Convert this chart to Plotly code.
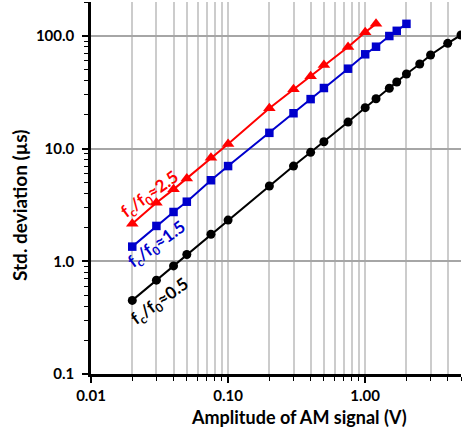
import plotly.graph_objects as go
import math

# Data
x_black = [0.02, 0.03, 0.04, 0.05, 0.075, 0.1, 0.2, 0.3, 0.4, 0.5, 0.75, 1.0, 1.2, 1.5, 1.7, 2.0, 2.5, 3.0, 4.0, 5.0]
y_black = [0.45, 0.68, 0.91, 1.15, 1.74, 2.32, 4.66, 7.0, 9.27, 11.5, 17.2, 23.1, 27.7, 34.3, 39.0, 45.9, 56.4, 67.7, 85.9, 102.0]

x_blue = [0.02, 0.03, 0.04, 0.05, 0.075, 0.1, 0.2, 0.3, 0.4, 0.5, 0.75, 1.0, 1.2, 1.5, 1.7, 2.0]
y_blue = [1.35, 2.06, 2.74, 3.38, 5.24, 7.0, 13.8, 20.6, 27.5, 34.5, 51.2, 68.7, 80.2, 99.8, 111.0, 128.0]

x_red = [0.02, 0.03, 0.04, 0.05, 0.075, 0.1, 0.2, 0.3, 0.4, 0.5, 0.75, 1.0, 1.2]
y_red = [2.15, 3.31, 4.35, 5.44, 8.3, 11.0, 22.8, 33.6, 43.8, 55.2, 79.8, 108.0, 128.0]

labels = ["f<sub>c</sub>/f<sub>0</sub>≈0.5", "f<sub>c</sub>/f<sub>0</sub>≈1.5", "f<sub>c</sub>/f<sub>0</sub>≈2.5"]

x_tickvals = [0.01, 0.1, 1.0]
x_ticktext = ["0.01", "0.10", "1.00"]
y_tickvals = [0.1, 1.0, 10.0, 100.0]
y_ticktext = ["0.1", "1.0", "10.0", "100.0"]

x_title = "Amplitude of AM signal (V)"
y_title = "Std. deviation (µs)"

FONT = "Lato"

fig = go.Figure()
fig.add_trace(go.Scatter(x=x_black, y=y_black, mode="lines+markers",
                         line=dict(color="black", width=2),
                         marker=dict(symbol="circle", size=9, color="black")))
fig.add_trace(go.Scatter(x=x_blue, y=y_blue, mode="lines+markers",
                         line=dict(color="#0000cc", width=2),
                         marker=dict(symbol="square", size=8.5, color="#0000cc")))
fig.add_trace(go.Scatter(x=x_red, y=y_red, mode="lines+markers",
                         line=dict(color="#ff0000", width=2),
                         marker=dict(symbol="triangle-up", size=11, color="#ff0000")))

ann_pos = [(-1.498, -0.361, "black"), (-1.52, 0.145, "#0000cc"), (-1.571, 0.588, "#ff0000")]
for (ax_, ay_, c), t in zip(ann_pos, labels):
    fig.add_annotation(x=ax_, y=ay_, xref="x", yref="y", text="<b>" + t + "</b>",
                       showarrow=False, textangle=-36,
                       font=dict(family=FONT, size=17, color=c))

# axis titles
fig.add_annotation(x=0.561, y=-0.1156, xref="paper", yref="paper", text="<b>" + x_title + "</b>",
                   showarrow=False, xanchor="center", yanchor="middle",
                   font=dict(family=FONT, size=18, color="black"))
fig.add_annotation(x=-0.195, y=0.454, xref="paper", yref="paper", text="<b>" + y_title + "</b>",
                   showarrow=False, xanchor="center", yanchor="middle", textangle=-90,
                   font=dict(family=FONT, size=19, color="black"))

fig.update_layout(
    width=462, height=438,
    margin=dict(l=91, r=1, t=2, b=64),
    plot_bgcolor="white", paper_bgcolor="white",
    showlegend=False,
    font=dict(family=FONT, color="black"),
)
fig.update_xaxes(
    type="log", range=[-2, math.log10(5)], automargin=False,
    tickvals=x_tickvals, ticktext=x_ticktext,
    tickfont=dict(family=FONT, size=15, color="black", weight="bold"),
    showline=True, linecolor="black", linewidth=2.5,
    ticks="outside", ticklen=6, tickwidth=2, tickcolor="black",
    showgrid=True, gridcolor="#cccccc", gridwidth=1.5,
    minor=dict(ticks="outside", ticklen=4, tickwidth=1, tickcolor="black",
               showgrid=True, gridcolor="#cccccc", gridwidth=1.5, dtick="D1"),
    zeroline=False,
)
fig.update_yaxes(
    type="log", range=[-1, math.log10(200)], automargin=False,
    tickvals=y_tickvals, ticktext=y_ticktext,
    tickfont=dict(family=FONT, size=15, color="black", weight="bold"),
    showline=True, linecolor="black", linewidth=2.5,
    ticks="outside", ticklen=6, tickwidth=2, tickcolor="black",
    ticklabelstandoff=5,
    showgrid=True, gridcolor="#a6a6a6", gridwidth=1.5,
    minor=dict(ticks="outside", ticklen=4, tickwidth=1, tickcolor="black",
               showgrid=False, dtick="D1"),
    zeroline=False,
)

fig.write_html("out.html", config={"displayModeBar": False},
               post_script="document.body.style.margin='0';")
